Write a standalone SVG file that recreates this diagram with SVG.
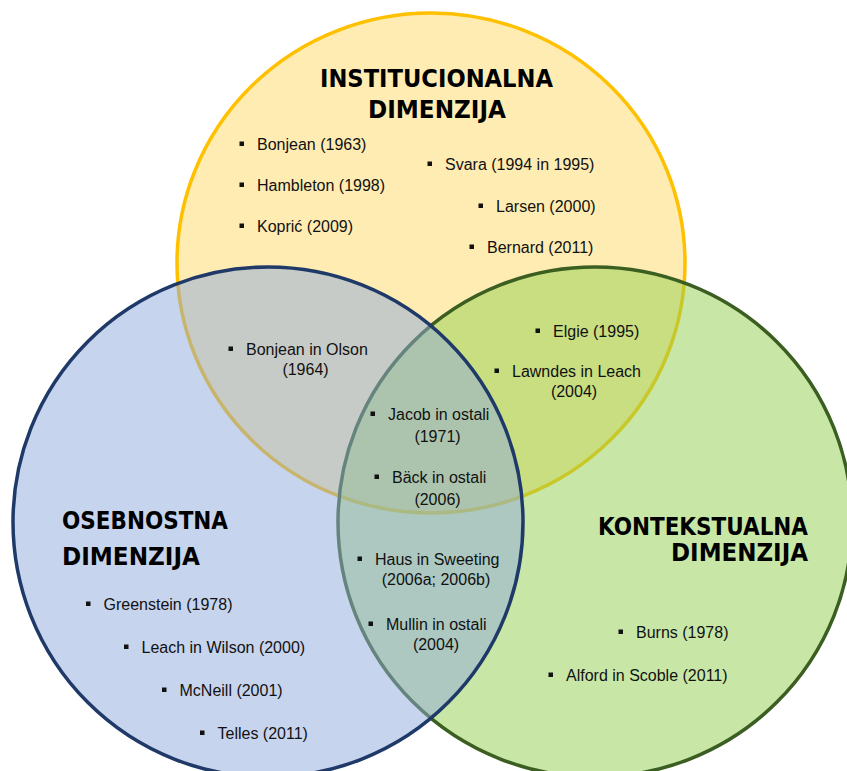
<svg xmlns="http://www.w3.org/2000/svg" xmlns:xlink="http://www.w3.org/1999/xlink" width="847" height="771" viewBox="0 0 847 771">
  <style>
    .set { fill-opacity: 0.5; stroke-width: 3.5; }
    .inst { fill: #FFD966; stroke: #FFC000; }
    .cont { fill: #92D050; stroke: #3B5E21; }
    .pers { fill: #8FAADC; stroke: #1F3A68; }
    .title { font-family: "DejaVu Sans", "Liberation Sans", sans-serif; font-weight: bold; font-size: 24px; fill: #000; }
    .item { font-family: "Liberation Sans", Arial, sans-serif; font-size: 16px; fill: #111; }
    .mid { text-anchor: middle; }
    .end { text-anchor: end; }
  </style>
  <defs>
    <rect id="bullet" width="4.5" height="4.5" fill="#111"/>
  </defs>

  <rect width="847" height="771" fill="#FFFFFF"/>

  <!-- Institutional dimension -->
  <g id="institucionalna">
    <ellipse class="set inst" cx="431" cy="263" rx="254" ry="250"/>
  </g>
  <!-- Contextual dimension -->
  <g id="kontekstualna">
    <ellipse class="set cont" cx="595" cy="522" rx="257" ry="255"/>
  </g>
  <!-- Personal dimension -->
  <g id="osebnostna">
    <ellipse class="set pers" cx="268" cy="522" rx="255" ry="255"/>
  </g>

  <!-- Set titles -->
  <g id="institucionalna-label">
    <text class="title" x="320" y="87" textLength="233" lengthAdjust="spacingAndGlyphs">INSTITUCIONALNA</text>
    <text class="title" x="368" y="118" textLength="138" lengthAdjust="spacingAndGlyphs">DIMENZIJA</text>
  </g>
  <g id="osebnostna-label">
    <text class="title" x="62" y="529" textLength="166" lengthAdjust="spacingAndGlyphs">OSEBNOSTNA</text>
    <text class="title" x="62" y="565" textLength="138" lengthAdjust="spacingAndGlyphs">DIMENZIJA</text>
  </g>
  <g id="kontekstualna-label">
    <text class="title" x="598" y="535" textLength="210" lengthAdjust="spacingAndGlyphs">KONTEKSTUALNA</text>
    <text class="title" x="671" y="561" textLength="137" lengthAdjust="spacingAndGlyphs">DIMENZIJA</text>
  </g>

  <!-- Institutional only -->
  <g id="institucionalna-items">
    <use href="#bullet" x="239.5" y="141.5"/><text class="item" x="257" y="150">Bonjean (1963)</text>
    <use href="#bullet" x="239.5" y="182.5"/><text class="item" x="257" y="191">Hambleton (1998)</text>
    <use href="#bullet" x="239.5" y="223.5"/><text class="item" x="257" y="232">Koprić (2009)</text>
    <use href="#bullet" x="427.5" y="161.5"/><text class="item" x="445" y="170">Svara (1994 in 1995)</text>
    <use href="#bullet" x="478.5" y="203.5"/><text class="item" x="496" y="212">Larsen (2000)</text>
    <use href="#bullet" x="469.5" y="244.5"/><text class="item" x="487" y="253">Bernard (2011)</text>
  </g>

  <!-- Institutional + personal -->
  <g id="inst-pers-items">
    <use href="#bullet" x="228.5" y="346.5"/><text class="item" x="246" y="355">Bonjean in Olson</text>
    <text class="item mid" x="305.5" y="375">(1964)</text>
  </g>

  <!-- Institutional + contextual -->
  <g id="inst-cont-items">
    <use href="#bullet" x="535.5" y="328.5"/><text class="item" x="553" y="337">Elgie (1995)</text>
    <use href="#bullet" x="494.5" y="368.5"/><text class="item" x="512" y="377">Lawndes in Leach</text>
    <text class="item mid" x="574" y="397">(2004)</text>
  </g>

  <!-- All three dimensions and personal + contextual -->
  <g id="lens-items">
    <use href="#bullet" x="370.5" y="411.5"/><text class="item" x="388" y="420">Jacob in ostali</text>
    <text class="item mid" x="437.5" y="442">(1971)</text>
    <use href="#bullet" x="374.5" y="474.5"/><text class="item" x="392" y="483">Bäck in ostali</text>
    <text class="item mid" x="437.5" y="505">(2006)</text>
    <use href="#bullet" x="357.5" y="556.5"/><text class="item" x="375" y="565">Haus in Sweeting</text>
    <text class="item mid" x="436" y="585">(2006a; 2006b)</text>
    <use href="#bullet" x="368.5" y="621.5"/><text class="item" x="386" y="630">Mullin in ostali</text>
    <text class="item mid" x="436" y="650">(2004)</text>
  </g>

  <!-- Personal only -->
  <g id="osebnostna-items">
    <use href="#bullet" x="86" y="601.5"/><text class="item" x="103.5" y="610">Greenstein (1978)</text>
    <use href="#bullet" x="124" y="644.5"/><text class="item" x="141.5" y="653">Leach in Wilson (2000)</text>
    <use href="#bullet" x="162" y="687.5"/><text class="item" x="179.5" y="696">McNeill (2001)</text>
    <use href="#bullet" x="200" y="730.5"/><text class="item" x="217.5" y="739">Telles (2011)</text>
  </g>

  <!-- Contextual only -->
  <g id="kontekstualna-items">
    <use href="#bullet" x="618.5" y="629.5"/><text class="item" x="636" y="638">Burns (1978)</text>
    <use href="#bullet" x="548.5" y="672.5"/><text class="item" x="566" y="681">Alford in Scoble (2011)</text>
  </g>
</svg>
